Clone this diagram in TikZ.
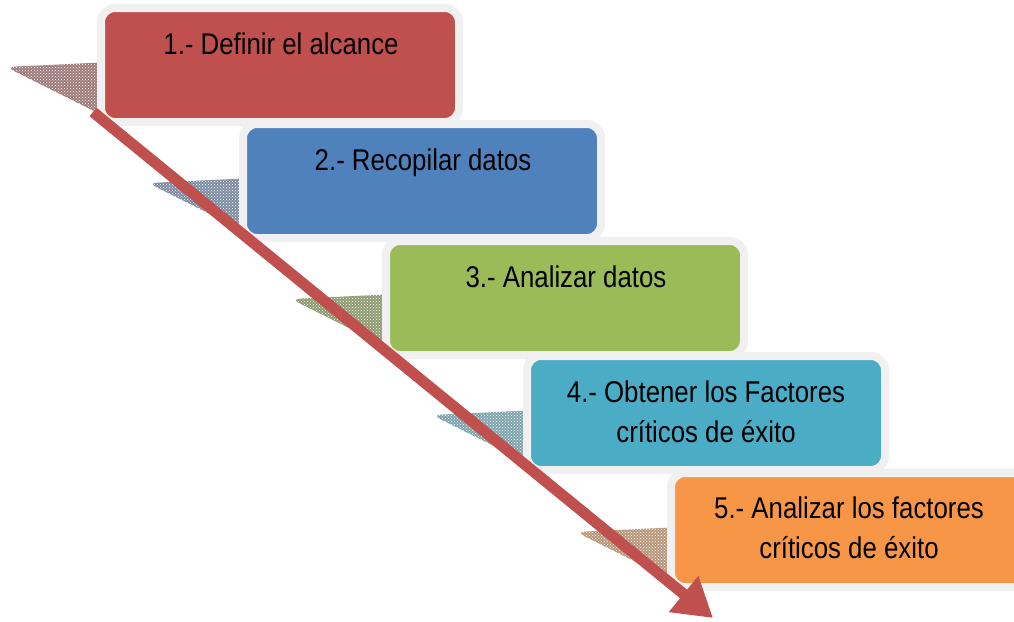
\documentclass[tikz,border=0pt]{standalone}
\usepackage{fontspec}
\setmainfont{Liberation Sans}[FakeStretch=0.86]
\usetikzlibrary{arrows.meta,patterns}
\definecolor{cred}{HTML}{C0504D}
\definecolor{cblue}{HTML}{4F81BD}
\definecolor{cgreen}{HTML}{9BBB59}
\definecolor{cteal}{HTML}{4BACC6}
\definecolor{corange}{HTML}{F79646}
\definecolor{cborder}{HTML}{F0F0F0}
\definecolor{dred}{HTML}{9E7A7A}
\definecolor{dblue}{HTML}{7D8CA3}
\definecolor{dgreen}{HTML}{8E9A70}
\definecolor{dteal}{HTML}{7FA4AE}
\definecolor{dorange}{HTML}{B9967A}
\tikzset{
  stepbox/.style={draw=cborder, line width=8pt, rounded corners=14pt,
    minimum width=358pt, minimum height=114pt, inner sep=0pt},
  steptext/.style={font=\fontsize{30}{40}\selectfont, align=center, anchor=base,
    inner sep=0pt, text=black},
  shadowtri/.style={rounded corners=9pt, postaction={pattern=crosshatch dots, pattern color=white}},
  bigarrow/.style={draw=cred, line width=11pt,
    -{Triangle[width=44pt,length=38pt]}}
}
\begin{document}
\begin{tikzpicture}[x=1pt,y=-1pt]
\useasboundingbox (0,0) rectangle (1014,621);
% shadow triangles
\fill[shadowtri, fill=dred]    (112,62)  -- (6,67)   -- (112,120) -- cycle;
\fill[shadowtri, fill=dblue]   (254,178) -- (148,183) -- (254,236) -- cycle;
\fill[shadowtri, fill=dgreen]  (397,294) -- (291,299) -- (397,352) -- cycle;
\fill[shadowtri, fill=dteal]   (538,410) -- (432,415) -- (538,468) -- cycle;
\fill[shadowtri, fill=dorange] (682,527) -- (576,532) -- (682,585) -- cycle;
% boxes
\node[stepbox, fill=cred]    (s1) at (280,65)  {};
\node[steptext] (t1) at (281,54) {1.- Definir el alcance};
\node[stepbox, fill=cblue]   (s2) at (422,181) {};
\node[steptext] (t2) at (423,170) {2.- Recopilar datos};
\node[stepbox, fill=cgreen]  (s3) at (565,298) {};
\node[steptext] (t3) at (566,287) {3.- Analizar datos};
\node[stepbox, fill=cteal]   (s4) at (706,413) {};
\node[steptext] (t4) at (706,442) {4.- Obtener los Factores\\críticos de éxito};
\node[stepbox, fill=corange] (s5) at (850,530) {};
\node[steptext] (t5) at (849,558) {5.- Analizar los factores\\críticos de éxito};
% arrow
\coordinate (arrS) at (93,112);
\coordinate (arrE) at (713,618);
\draw[bigarrow] (arrS) -- (arrE);
\end{tikzpicture}
\end{document}
